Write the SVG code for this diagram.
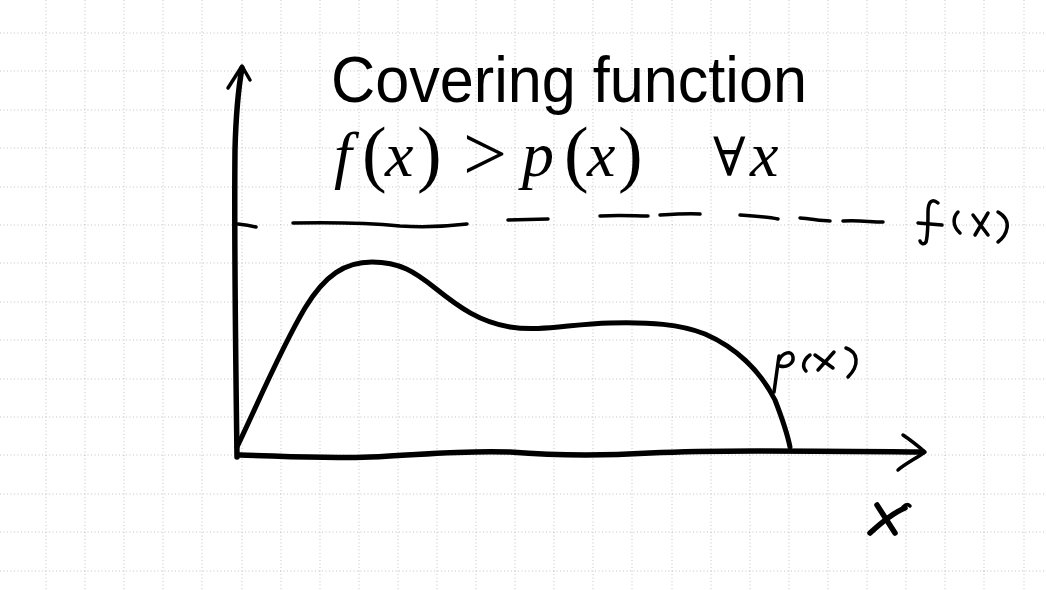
<svg xmlns="http://www.w3.org/2000/svg" width="1046" height="590" viewBox="0 0 1046 590">
<style>
.grid{stroke:#8c8c8c;stroke-width:1;stroke-dasharray:1 2.5;fill:none;opacity:.5}
.ink{stroke:#000;fill:none;stroke-linecap:round;stroke-linejoin:round}
.ax{stroke-width:5.5}
.cv{stroke-width:5}
.hw{stroke-width:3.5}
.title{font-family:"Liberation Sans",Arial,sans-serif;font-size:65px;fill:#000}
.m{font-family:"Liberation Serif","Times New Roman",serif;font-size:64px;fill:#000}
.mi{font-style:italic}
.par{font-size:74px}
.gt{font-size:78px}
.all{font-family:"DejaVu Serif","Liberation Serif",serif;font-size:54px}
</style>
<rect width="1046" height="590" fill="#fff"/>
<g id="grid">
<path class="grid" d="M46,0V590M85,0V590M124,0V590M163,0V590M202,0V590M242,0V590M281,0V590M320,0V590M359,0V590M398,0V590M437,0V590M476,0V590M515,0V590M554,0V590M593,0V590M632,0V590M672,0V590M711,0V590M750,0V590M789,0V590M828,0V590M867,0V590M906,0V590M945,0V590M984,0V590M1024,0V590"/>
<path class="grid" d="M0,33H1046M0,71H1046M0,110H1046M0,148H1046M0,187H1046M0,225H1046M0,263H1046M0,302H1046M0,340H1046M0,379H1046M0,417H1046M0,455H1046M0,494H1046M0,532H1046M0,571H1046"/>
</g>
<g id="title"><text class="title" x="331" y="102" textLength="476" lengthAdjust="spacingAndGlyphs">Covering function</text></g>
<g id="formula">
<text class="m mi" x="334" y="176">f</text>
<text class="m par" x="362" y="178">(</text>
<text class="m mi" x="385" y="176">x</text>
<text class="m par" x="417" y="178">)</text>
<text class="m gt" x="463" y="180">&gt;</text>
<text class="m mi" x="522" y="176">p</text>
<text class="m par" x="564" y="178">(</text>
<text class="m mi" x="587" y="176">x</text>
<text class="m par" x="618" y="178">)</text>
<text class="m all" x="713" y="176">∀</text>
<text class="m mi" x="750" y="176">x</text>
</g>
<g id="connectors">
<g id="y-axis">
<path class="ink ax" d="M237,457 C236,380 234,250 235,150 C236,110 239,85 242,68"/>
<path class="ink hw" d="M228,88 L242,66 L250,80"/>
<path class="ink hw" d="M238,224 Q248,225 256,227"/>
</g>
<g id="x-axis">
<path class="ink ax" d="M240,455 C280,456 320,459 370,457 C420,455 460,450 510,452 C560,456 600,456 650,453 C720,450 800,451 923,452"/>
<path class="ink hw" d="M903,435 C912,441 918,446 925,452 C915,459 905,464 898,470"/>
</g>
</g>
<g id="f-curve">
<path class="ink hw" d="M293,223 C340,222 380,224 400,226 C430,228 450,226 467,224"/>
<path class="ink hw" d="M508,220 L548,219"/>
<path class="ink hw" d="M600,216 C620,215 635,216 648,216"/>
<path class="ink hw" d="M660,215 C675,214 690,213 700,214"/>
<path class="ink hw" d="M740,215 C755,216 768,217 778,219"/>
<path class="ink hw" d="M800,218 C812,219 822,221 830,221"/>
<path class="ink hw" d="M843,221 C860,220 870,222 883,222"/>
</g>
<g id="p-curve">
<path class="ink cv" d="M237,447 C255,410 280,350 305,308 C325,275 345,262 372,262 C400,262 415,272 435,288 C460,308 480,322 510,327 C540,332 570,324 610,323 C650,322 680,324 705,334 C735,347 760,370 775,400 C782,418 787,432 790,447"/>
</g>
<g id="label-f">
<path class="ink hw" d="M938,203 C932,198 928,202 928,212 C928,225 928,235 926,242 C924,245 921,244 920,241"/>
<path class="ink hw" d="M918,223 L942,225"/>
<path class="ink hw" d="M958,212 C953,217 952,226 960,233"/>
<path class="ink hw" d="M973,215 L988,235 M988,213 L975,235"/>
<path class="ink hw" d="M998,212 C1005,216 1008,222 1007,228 C1006,234 1002,239 998,242"/>
</g>
<g id="label-p">
<path class="ink hw" d="M779,356 L774,392"/>
<path class="ink hw" d="M779,360 C783,352 792,350 793,357 C794,364 786,368 780,366"/>
<path class="ink hw" d="M810,355 C803,360 802,367 806,371"/>
<path class="ink hw" d="M815,355 L833,368 M834,352 L818,370"/>
<path class="ink hw" d="M846,348 C858,352 860,365 848,377"/>
</g>
<g id="label-x">
<path class="ink ax" d="M877,505 L895,533"/>
<path class="ink ax" d="M905,508 C895,512 882,522 870,533"/>
<path class="ink hw" d="M903,507 Q907,503 910,506"/>
</g>
</svg>
